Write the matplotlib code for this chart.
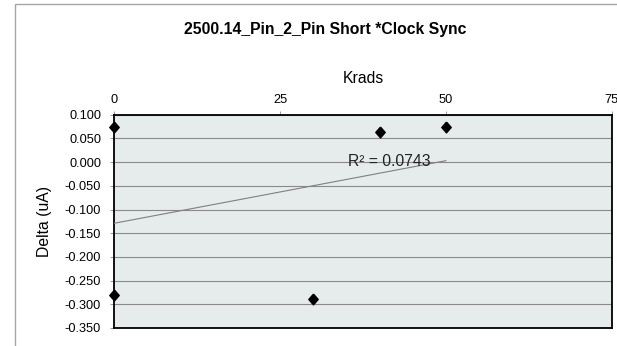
import matplotlib
matplotlib.use("Agg")
import matplotlib.pyplot as plt
from matplotlib.patches import Rectangle
from matplotlib.ticker import FormatStrFormatter
import numpy as np

plt.rcParams['font.family'] = ['Liberation Sans', 'DejaVu Sans']

# Measured deltas per dose
dose_krads = [0, 0, 30, 40, 50]
delta_ua = [0.075, -0.281, -0.288, 0.064, 0.074]

# Linear trendline shown on the chart
trend_intercept = -0.129
trend_slope = 0.00264
trend_x_range = [0, 50]
r_squared_label = "R² = 0.0743"

x_ticks = [0, 25, 50, 75]
y_ticks = [0.100, 0.050, 0.000, -0.050, -0.100, -0.150, -0.200, -0.250, -0.300, -0.350]

W, H = 617, 346
fig = plt.figure(figsize=(W / 100, H / 100), dpi=100)

# Chart frame
fig.patches.append(Rectangle((14.5 / W, -0.1), 1.2, 1.1 - 4 / H, transform=fig.transFigure,
                             fill=False, edgecolor="#a6a6a6", linewidth=1.0))

ax = fig.add_axes([114.3 / W, 1 - 328 / H, (611.7 - 114.3) / W, (328 - 114.7) / H])
ax.set_facecolor("#E6EBEB")

ax.set_xlim(0, 75)
ax.set_ylim(-0.35, 0.10)
ax.set_xticks(x_ticks)
ax.set_yticks(y_ticks)
ax.yaxis.set_major_formatter(FormatStrFormatter("%.3f"))
ax.xaxis.tick_top()
ax.xaxis.set_label_position("top")

ax.grid(axis="y", color="#8a8a8a", linewidth=0.8)
ax.set_axisbelow(True)
for s in ax.spines.values():
    s.set_color("black")
    s.set_linewidth(1.3)

ax.tick_params(axis="both", direction="out", length=3, width=0.6, color="#8a8a8a",
               labelsize=9.2, labelcolor="black")
ax.tick_params(axis="x", pad=3.5)
ax.tick_params(axis="y", pad=6.5)

# Trendline
tx = np.array(trend_x_range, dtype=float)
ax.plot(tx, trend_intercept + trend_slope * tx, color="#7f7f7f", linewidth=0.8, zorder=3)

# Data points (diamonds)
diamond = [(0, 1), (0.87, 0), (0, -1), (-0.87, 0), (0, 1)]
ax.plot(dose_krads, delta_ua, linestyle="none", marker=diamond, markersize=7.8,
        color="black", clip_on=False, zorder=4)

ax.text(35.2, 0.001, r_squared_label, fontsize=11.3, color="#222222",
        ha="left", va="center", zorder=5)

ax.set_xlabel("Krads", fontsize=11.3, labelpad=8)
ax.set_ylabel("Delta (uA)", fontsize=11.3, labelpad=9)

fig.text(325 / W, 1 - 29.5 / H, "2500.14_Pin_2_Pin Short *Clock Sync",
         fontsize=11.3, fontweight="bold", ha="center", va="center")

fig.savefig("out.png", dpi=100)
